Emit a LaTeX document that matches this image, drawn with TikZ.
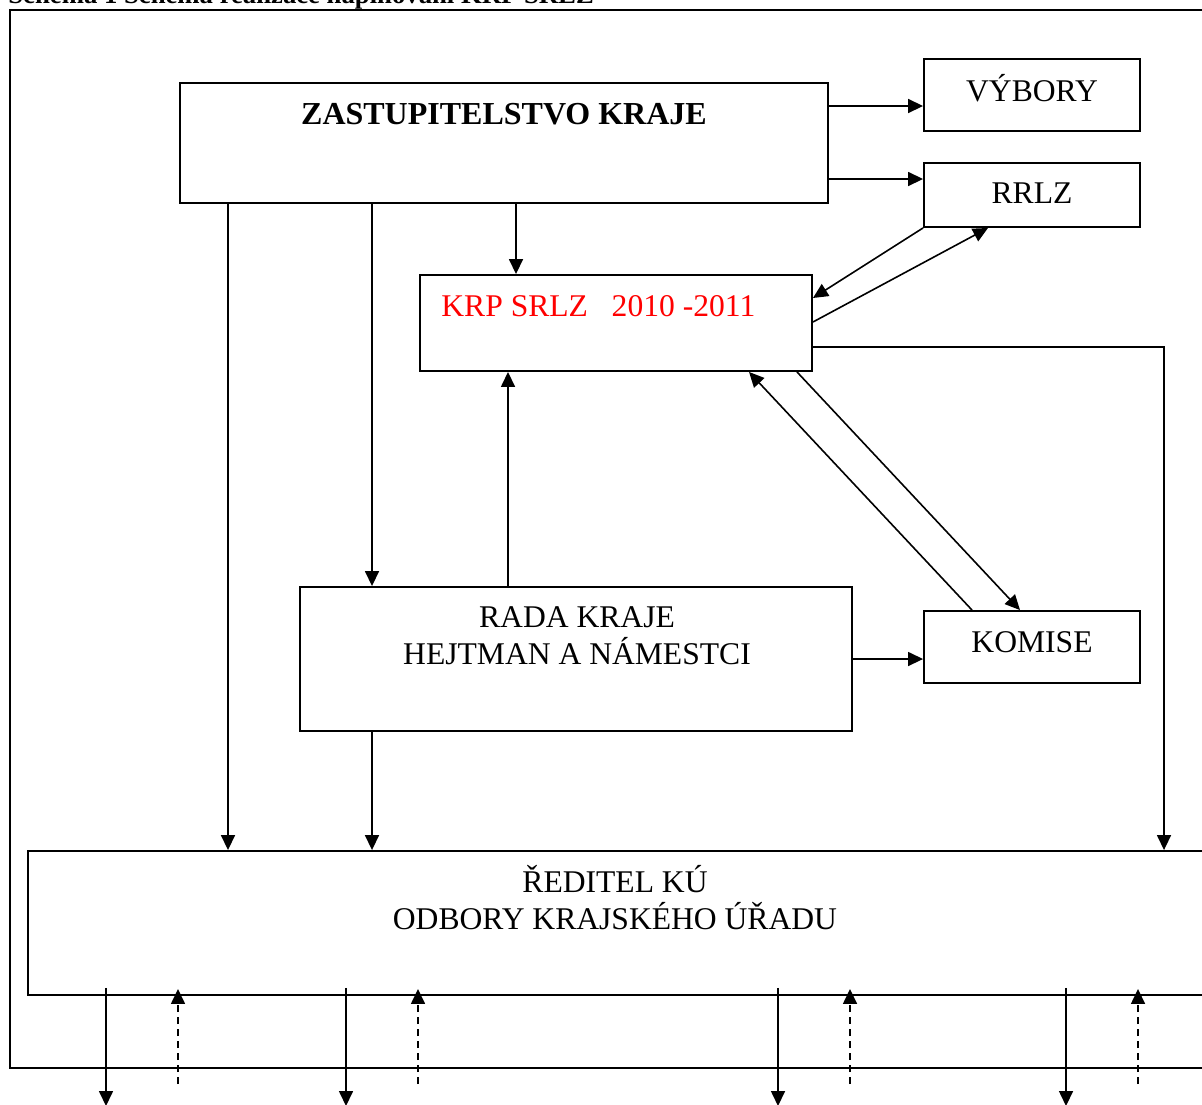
\documentclass[tikz,border=0pt]{standalone}
\usepackage{fontspec}
\setmainfont{Liberation Serif}
\usetikzlibrary{arrows.meta,fit,calc}
\tikzset{
  box/.style={draw, line width=0.95pt, inner sep=0pt, rectangle},
  lbl/.style={anchor=base, inner sep=0pt, font=\fontsize{15.8}{19}\selectfont},
  conn/.style={line width=0.8pt, -{Triangle[length=7.5pt,width=7pt]}},
  dconn/.style={conn, dash pattern=on 3.5pt off 2.5pt},
}
\begin{document}
\begin{tikzpicture}[x=0.5pt,y=-0.5pt]
\useasboundingbox (0,0) rectangle (1202,1104);
\clip (0,0) rectangle (1202,1104);
\fill[white] (0,0) rectangle (1202,1104);
% title (cut at top, as in the reference)
\node[anchor=base west, inner sep=0pt, font=\fontsize{13.35}{16}\selectfont\bfseries] (title) at (8,3) {Schéma 1 Schéma realizace naplňování KRP SRLZ};
% outer frame
\node[box, fit={(10,10) (1260,1068)}] (frame) {};
% boxes
\node[box, fit={(180,83) (828,203)}] (zast) {};
\node[box, fit={(924,59) (1140,131)}] (vybory) {};
\node[box, fit={(924,163) (1140,227)}] (rrlz) {};
\node[box, fit={(420,275) (812,371)}] (krp) {};
\node[box, fit={(300,587) (852,731)}] (rada) {};
\node[box, fit={(924,611) (1140,683)}] (komise) {};
\node[box, fit={(28,851) (1260,995)}] (reditel) {};
% texts
\node[lbl, font=\fontsize{16}{19}\selectfont\bfseries] (tzast) at (504,124) {ZASTUPITELSTVO KRAJE};
\node[lbl] (tvyb) at (1032,101) {VÝBORY};
\node[lbl] (trrlz) at (1032,203) {RRLZ};
\node[lbl, anchor=base west, text=red] (tkrp) at (441,316) {KRP SRLZ\ \ \ 2010 -2011};
\node[lbl] (trada1) at (577,627) {RADA KRAJE};
\node[lbl] (trada2) at (577,664) {HEJTMAN A NÁMESTCI};
\node[lbl] (tkom) at (1032,652) {KOMISE};
\node[lbl] (tred1) at (615,892) {ŘEDITEL KÚ};
\node[lbl] (tred2) at (615,929) {ODBORY KRAJSKÉHO ÚŘADU};
% connectors
\draw[conn] (zast.east |- 0,106) -- (vybory.west |- 0,106);
\draw[conn] (zast.east |- 0,179) -- (rrlz.west |- 0,179);
\draw[conn] (zast.south -| 516,0) -- (krp.north -| 516,0);
\draw[conn] (zast.south -| 372,0) -- (rada.north -| 372,0);
\draw[conn] (zast.south -| 228,0) -- (reditel.north -| 228,0);
\draw[conn] (rrlz.south west) -- (krp.east |- 0,298);
\draw[conn] (krp.east |- 0,322) -- (rrlz.south -| 988,0);
\draw[conn] (krp.east |- 0,347) -| (reditel.north -| 1164,0);
\draw[conn] (rada.north -| 508,0) -- (krp.south -| 508,0);
\draw[conn] (rada.east |- 0,659) -- (komise.west |- 0,659);
\draw[conn] (krp.south -| 797,0) -- (komise.north -| 1020,0);
\draw[conn] (komise.north -| 972,0) -- (krp.south -| 749,0);
\draw[conn] (rada.south -| 372,0) -- (reditel.north -| 372,0);
% bottom arrows
\coordinate (e1) at (106,1106);
\coordinate (e2) at (346,1106);
\coordinate (e3) at (778,1106);
\coordinate (e4) at (1066,1106);
\coordinate (s1) at (178,1084);
\coordinate (s2) at (418,1084);
\coordinate (s3) at (850,1084);
\coordinate (s4) at (1138,1084);
\draw[conn] (reditel.south -| e1) ++(0,-8) -- (e1);
\draw[conn] (reditel.south -| e2) ++(0,-8) -- (e2);
\draw[conn] (reditel.south -| e3) ++(0,-8) -- (e3);
\draw[conn] (reditel.south -| e4) ++(0,-8) -- (e4);
\draw[dconn] (s1) -- ($(reditel.south -| s1)+(0,-7)$);
\draw[dconn] (s2) -- ($(reditel.south -| s2)+(0,-7)$);
\draw[dconn] (s3) -- ($(reditel.south -| s3)+(0,-7)$);
\draw[dconn] (s4) -- ($(reditel.south -| s4)+(0,-7)$);
\end{tikzpicture}
\end{document}
